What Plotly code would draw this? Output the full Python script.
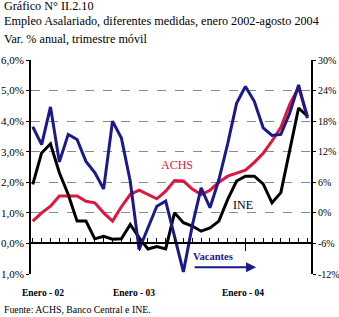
import plotly.graph_objects as go

# ---------------- data ----------------
months = [f"{m}-{y}" for y in ("02", "03", "04") for m in
          ("Ene", "Feb", "Mar", "Abr", "May", "Jun", "Jul", "Ago", "Sep", "Oct", "Nov", "Dic")][:32]
achs = [0.73, 1.00, 1.22, 1.55, 1.55, 1.55, 1.38, 1.33, 1.00, 0.73, 1.20, 1.60,
        1.74, 1.60, 1.46, 1.71, 2.06, 2.04, 1.78, 1.60, 1.74, 2.00, 2.20, 2.30,
        2.40, 2.65, 2.95, 3.35, 3.80, 4.55, 5.10, 4.16]
ine = [1.93, 2.96, 3.26, 2.31, 1.60, 0.73, 0.73, 0.15, 0.23, 0.14, 0.15, 0.62,
       0.19, -0.18, -0.10, -0.18, 1.00, 0.68, 0.57, 0.40, 0.51, 0.73, 1.44, 2.04,
       2.20, 2.20, 1.95, 1.33, 1.66, 3.02, 4.43, 4.16]
vacantes = [16.9, 13.4, 20.8, 10.0, 15.4, 14.4, 10.1, 7.9, 4.7, 18.0, 14.7, 6.2,
            -7.2, -3.0, 1.3, 2.3, -4.7, -11.6, -2.5, 4.9, 1.0, 6.5, 13.6, 21.5,
            24.8, 21.9, 16.7, 15.2, 15.4, 19.6, 25.1, 18.6]
left_ticks = [-1, 0, 1, 2, 3, 4, 5, 6]
left_labels = ["1,0%", "0,0%", "1,0%", "2,0%", "3,0%", "4,0%", "5,0%", "6,0%"]
right_ticks = [-12, -6, 0, 6, 12, 18, 24, 30]
right_labels = ["-12%", "-6%", "0%", "6%", "12%", "18%", "24%", "30%"]
year_labels = ["Enero - 02", "Enero - 03", "Enero - 04"]

x = list(range(len(months)))
jan_idx = [i for i, m in enumerate(months) if m.startswith("Ene")]

W, H = 339, 317
ML, MR, MT, MB = 31, 28, 60, 43
PW, PH = W - ML - MR, H - MT - MB
FONT = "'Liberation Serif', 'Times New Roman', 'DejaVu Serif', serif"
BLUE = "#1b1a8c"
RED = "#e0163f"

def px(xp):
    return (xp - ML) / PW

def py(yp):
    return (H - MB - yp) / PH

fig = go.Figure()
fig.add_trace(go.Scatter(x=x, y=achs, mode="lines", line=dict(color=RED, width=3), name="ACHS"))
fig.add_trace(go.Scatter(x=x, y=ine, mode="lines", line=dict(color="black", width=3), name="INE"))
fig.add_trace(go.Scatter(x=x, y=vacantes, mode="lines", line=dict(color=BLUE, width=3),
                         name="Vacantes", yaxis="y2"))

fig.update_layout(
    width=W, height=H, margin=dict(l=ML, r=MR, t=MT, b=MB, autoexpand=False),
    paper_bgcolor="white", plot_bgcolor="white", showlegend=False,
    font=dict(family=FONT, size=11, color="black"),
    xaxis=dict(range=[-0.2, 31.4], anchor="free", position=1 / 7, showgrid=False,
               zeroline=False, showline=True, linecolor="black", linewidth=1.5,
               tickvals=x, ticks="inside", ticklen=5, tickcolor="black", tickwidth=1,
               showticklabels=False, automargin=False),
    xaxis2=dict(range=[-0.2, 31.4], overlaying="x", anchor="free", position=1 / 7,
                showgrid=False, zeroline=False, showline=False,
                tickvals=jan_idx[1:], ticks="outside", ticklen=7, tickcolor="black",
                tickwidth=1, showticklabels=False, automargin=False),
    yaxis=dict(range=[-1, 6], tickvals=left_ticks, ticktext=left_labels,
               showgrid=True, gridcolor="#8a8a8a", griddash="dash", gridwidth=1.2,
               zeroline=False, showline=True, linecolor="black", linewidth=2,
               ticks="outside", ticklen=3, tickcolor="black", automargin=False,
               tickfont=dict(family=FONT, size=11)),
    yaxis2=dict(range=[-12, 30], overlaying="y", side="right", anchor="x",
                tickvals=right_ticks, ticktext=right_labels, showgrid=False,
                zeroline=False, showline=True, linecolor="black", linewidth=2,
                ticks="outside", ticklen=3, tickcolor="black", automargin=False,
                ticklabelstandoff=0, tickfont=dict(family=FONT, size=10)),
)
# invisible trace to activate xaxis2
fig.add_trace(go.Scatter(x=[x[0]], y=[achs[0]], xaxis="x2", mode="markers",
                         marker=dict(opacity=0), hoverinfo="skip"))

anns = []
# titles
anns.append(dict(text="Gráfico N° II.2.10", x=px(2), y=py(6), xanchor="left", yanchor="middle",
                 font=dict(size=12.2)))
anns.append(dict(text="Empleo Asalariado, diferentes medidas, enero 2002-agosto 2004",
                 x=px(2), y=py(21.5), xanchor="left", yanchor="middle", font=dict(size=12.2)))
anns.append(dict(text="Var. % anual, trimestre móvil", x=px(2), y=py(38.5),
                 xanchor="left", yanchor="middle", font=dict(size=12.2)))
anns.append(dict(text="Fuente: ACHS, Banco Central e INE.", x=px(2), y=py(309),
                 xanchor="left", yanchor="middle", font=dict(size=9.8)))
# year labels
for lab, xp in zip(year_labels, [43, 134, 243]):
    anns.append(dict(text=f"<b>{lab}</b>", x=px(xp), y=py(293), xanchor="center",
                     yanchor="middle", font=dict(size=9.5)))
for a in anns:
    a.update(xref="paper", yref="paper", showarrow=False)

# series labels
anns.append(dict(text="ACHS", x=16.3, y=2.57, xref="x", yref="y", showarrow=False,
                 font=dict(color=RED, size=12)))
anns.append(dict(text="INE", x=23.7, y=1.27, xref="x", yref="y", showarrow=False,
                 font=dict(color="black", size=12)))
anns.append(dict(text="<b>Vacantes</b>", x=20.3, y=-0.42, xref="x", yref="y", showarrow=False,
                 font=dict(color=BLUE, size=10.5)))
anns.append(dict(text="", x=25.2, y=-0.78, ax=18.1, ay=-0.78, xref="x", yref="y",
                 axref="x", ayref="y", showarrow=True, arrowhead=2, arrowsize=1,
                 arrowwidth=2, arrowcolor=BLUE))
fig.update_layout(annotations=anns)

fig.write_html("out.html")
